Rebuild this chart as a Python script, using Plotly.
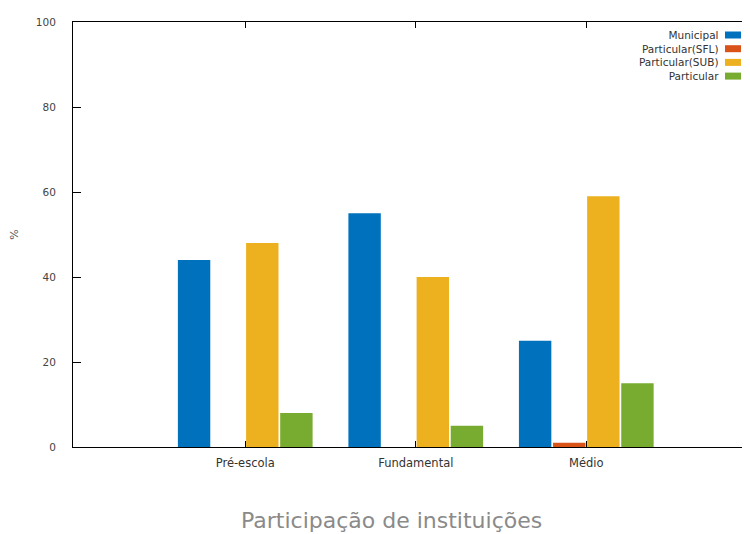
import plotly.graph_objects as go

categories = ["Pré-escola", "Fundamental", "Médio"]
series_names = ["Municipal", "Particular(SFL)", "Particular(SUB)", "Particular"]
municipal = [44, 55, 25]
particular_sfl = [0, 0, 1]
particular_sub = [48, 40, 59]
particular = [8, 5, 15]
y_ticks = [0, 20, 40, 60, 80, 100]
colors = ["#0072BD", "#D95319", "#EDB120", "#77AC30"]

values = [municipal, particular_sfl, particular_sub, particular]
x_idx = list(range(len(categories)))

# page offset of 8px (body margin) is compensated: figure is 742x526
FIG_W, FIG_H = 742, 526
L, T, R, B = 65, 14, 0, 87
PW = FIG_W - L - R
PH = FIG_H - T - B


def px(page_x):
    return (page_x - 8 - L) / PW


def py(page_y):
    return 1 - (page_y - 8 - T) / PH


fig = go.Figure()
for name, vals, c in zip(series_names, values, colors):
    fig.add_trace(go.Bar(
        x=x_idx, y=vals, name=name,
        marker=dict(color=c, line=dict(width=0)),
        showlegend=False,
    ))

# gnuplot-style key: right-aligned labels with swatches on the right
row_y = [35, 48.7, 62.4, 76.1]
fig.add_annotation(
    x=px(721), y=py((row_y[0] + row_y[-1]) / 2), xref="paper", yref="paper",
    xanchor="right", yanchor="middle", showarrow=False, align="right",
    text="<br>".join(series_names),
    font=dict(family="DejaVu Sans", size=10.5, color="#333333"),
)
for i, c in enumerate(colors):
    yc = py(row_y[i])
    fig.add_shape(
        type="rect", xref="paper", yref="paper",
        x0=px(725), x1=px(741), y0=yc - 3.5 / PH, y1=yc + 3.5 / PH,
        fillcolor=c, line=dict(width=0),
    )

fig.add_annotation(
    x=px(391), y=py(520), xref="paper", yref="paper",
    xanchor="center", yanchor="middle", showarrow=False,
    text="Participação de instituições",
    font=dict(family="DejaVu Sans", size=22, color="#8a8a8a"),
)

fig.update_layout(
    width=FIG_W, height=FIG_H,
    margin=dict(l=L, r=R, t=T, b=B, autoexpand=False),
    paper_bgcolor="white", plot_bgcolor="white",
    barmode="group", bargap=0.2, bargroupgap=0.05,
    font=dict(family="DejaVu Sans", size=11, color="#444444"),
)

fig.update_xaxes(
    range=[-1.01, 2.96], automargin=False,
    tickmode="array", tickvals=x_idx, ticktext=categories,
    ticks="inside", ticklen=6, tickcolor="black", tickwidth=1,
    showline=True, linecolor="black", linewidth=1, mirror="ticks",
    showgrid=False, zeroline=False, layer="above traces",
    ticklabelstandoff=5,
    tickfont=dict(family="DejaVu Sans", size=11.5, color="#333333"),
)
fig.update_yaxes(
    range=[0, 100], automargin=False,
    tickmode="array", tickvals=y_ticks,
    ticks="inside", ticklen=8, tickcolor="black", tickwidth=1,
    showline=True, linecolor="black", linewidth=1, mirror="ticks",
    showgrid=False, zeroline=False, layer="above traces",
    ticklabelstandoff=14,
    tickfont=dict(family="DejaVu Sans", size=10.5, color="#444444"),
    title=dict(text="%", standoff=30, font=dict(family="DejaVu Sans", size=11, color="#555555")),
)

fig.write_html("out.html")
